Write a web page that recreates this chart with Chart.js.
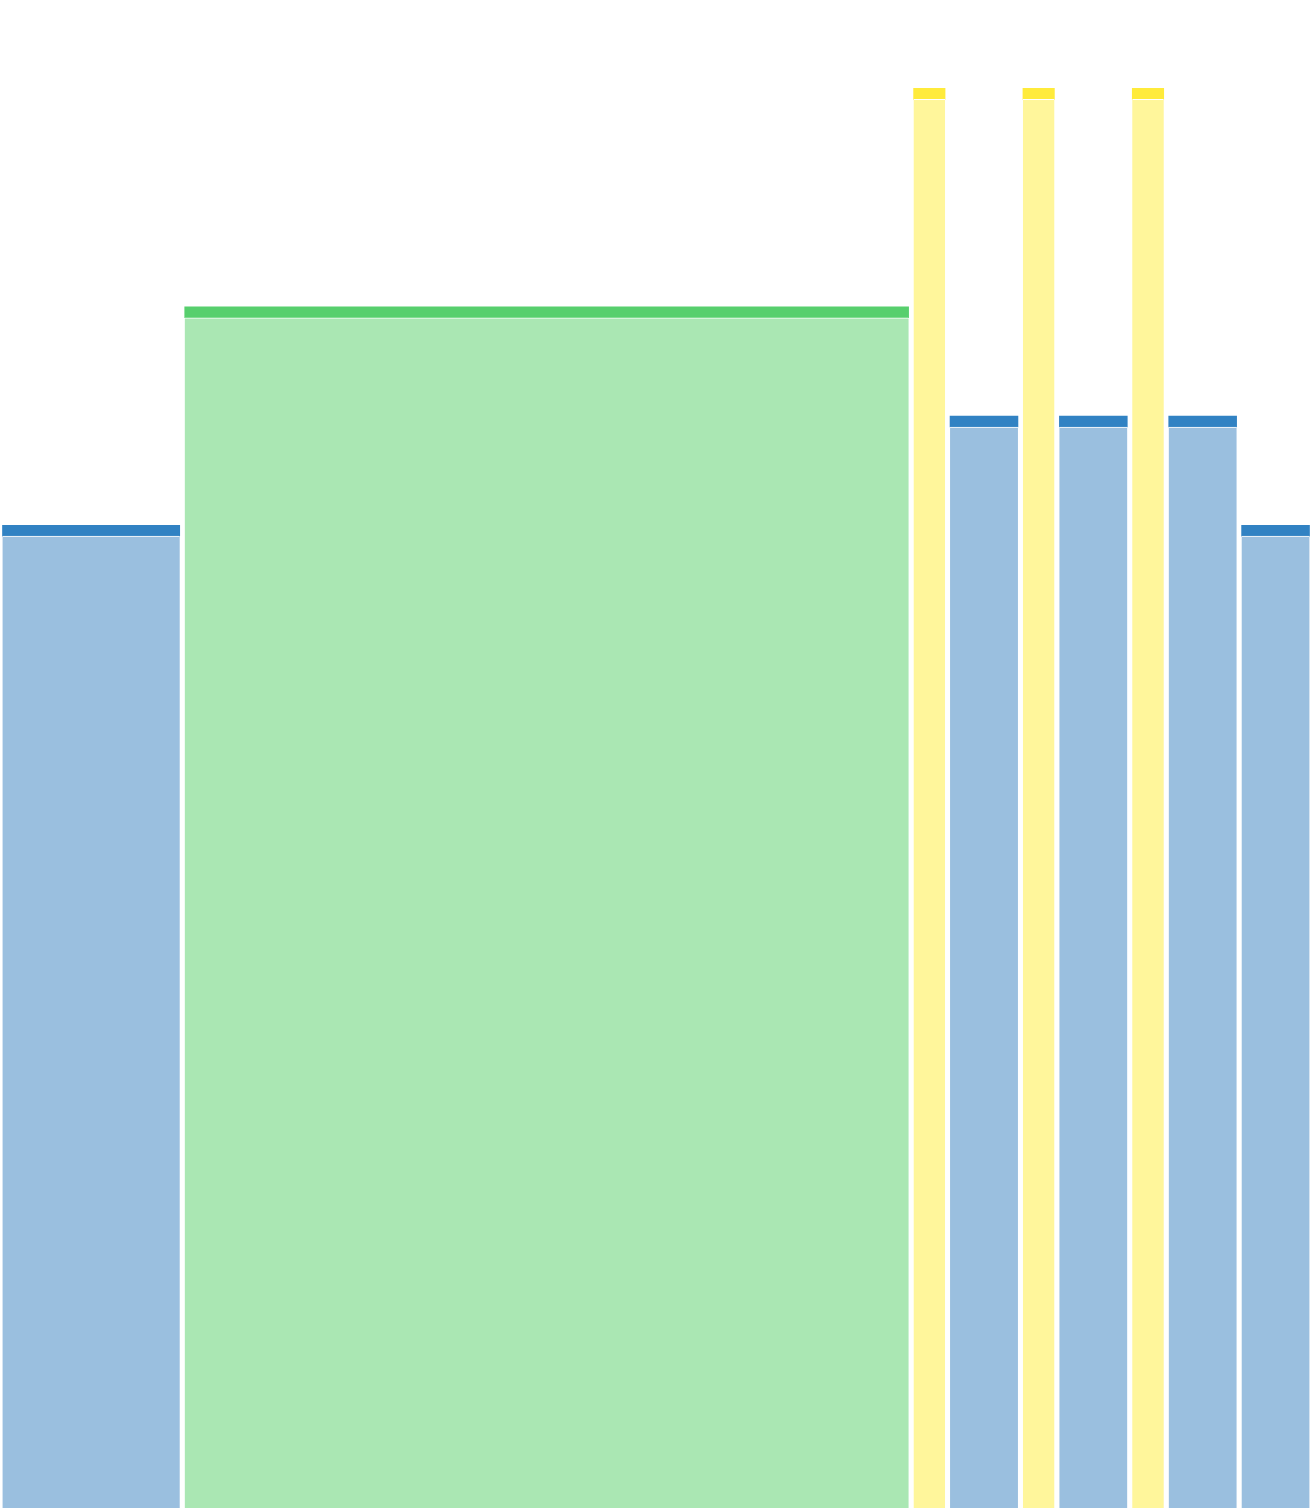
<!DOCTYPE html>
<html>
<head>
<meta charset="utf-8">
<script src="https://cdn.jsdelivr.net/npm/chart.js@4/dist/chart.umd.min.js"></script>
<style>
  html, body { margin: 0; padding: 0; background: #fff; }
  canvas { display: block; }
</style>
</head>
<body>
<canvas id="mosaic" width="1312" height="1508"></canvas>
<script>
// one entry per bar, left to right
const categories = ["a", "b", "c", "d", "e", "f", "g", "h", "i"];
const groups = ["blue", "green", "yellow", "blue", "yellow", "blue", "yellow", "blue", "blue"];
const widths = [5, 20, 1, 2, 1, 2, 1, 2, 2];
const fillValues = [8.9, 10.9, 12.9, 9.9, 12.9, 9.9, 12.9, 9.9, 8.9];
const capValues = [0.1, 0.1, 0.1, 0.1, 0.1, 0.1, 0.1, 0.1, 0.1];

const palette = {
  blue: { light: "#9abfdf", dark: "#3182c3" },
  green: { light: "#aae7b3", dark: "#57cf6d" },
  yellow: { light: "#fff69b", dark: "#ffeb3b" },
};

const totalWidth = widths.reduce((a, b) => a + b, 0);
const gap = 5;

// bar thickness in pixels taken from the x scale
function thickness(w) {
  return (ctx) => {
    const x = ctx.chart.scales.x;
    return Math.abs(x.getPixelForValue(w) - x.getPixelForValue(0)) - gap;
  };
}

const datasets = [];
let start = 0;
categories.forEach((name, i) => {
  const center = start + widths[i] / 2;
  start += widths[i];
  const colors = palette[groups[i]];
  datasets.push({
    label: name,
    data: [{ x: center, y: fillValues[i] }],
    stack: "s",
    backgroundColor: colors.light,
    borderColor: "#ffffff",
    borderWidth: { top: 1, left: 0, right: 0, bottom: 0 },
    barThickness: thickness(widths[i]),
  });
  datasets.push({
    label: name + " top",
    data: [{ x: center, y: capValues[i] }],
    stack: "s",
    backgroundColor: colors.dark,
    borderWidth: 0,
    barThickness: thickness(widths[i]),
  });
});

const ctx = document.getElementById("mosaic");
const chart = new Chart(ctx, {
  type: "bar",
  data: { datasets: datasets },
  options: {
    responsive: false,
    animation: false,
    layout: { padding: 0 },
    plugins: {
      legend: { display: false },
      tooltip: { enabled: false },
    },
    scales: {
      x: {
        type: "linear",
        min: 0,
        max: totalWidth,
        stacked: true,
        offset: false,
        display: false,
      },
      y: {
        min: 0,
        max: 13.81,
        stacked: true,
        display: false,
      },
    },
  },
});
</script>
</body>
</html>
